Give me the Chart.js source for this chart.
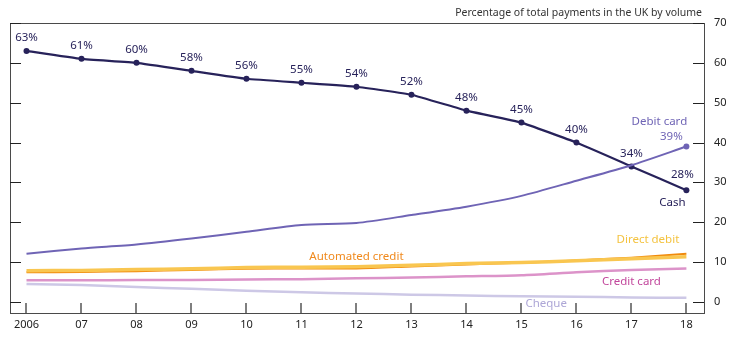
<!DOCTYPE html>
<html>
<head>
<meta charset="utf-8">
<script src="https://cdn.jsdelivr.net/npm/chart.js@4/dist/chart.umd.min.js"></script>
<style>
  html, body { margin: 0; padding: 0; background: #fff; }
  #wrap { width: 740px; height: 340px; }
</style>
</head>
<body>
<div id="wrap"><canvas id="payments" width="740" height="340"></canvas></div>
<script>
const years = [2006, 2007, 2008, 2009, 2010, 2011, 2012, 2013, 2014, 2015, 2016, 2017, 2018];
const yearLabels = ["2006", "07", "08", "09", "10", "11", "12", "13", "14", "15", "16", "17", "18"];

const cash = [63, 61, 60, 58, 56, 55, 54, 52, 48, 45, 40, 34, 28];
const debitCard = [12.1, 13.4, 14.4, 15.9, 17.6, 19.3, 19.8, 21.8, 23.9, 26.6, 30.4, 34.3, 39];
const directDebit = [7.8, 7.9, 8.1, 8.3, 8.6, 8.7, 8.8, 9.2, 9.6, 9.9, 10.3, 10.8, 11.3];
const automatedCredit = [7.4, 7.5, 7.7, 8.0, 8.3, 8.4, 8.4, 8.9, 9.4, 9.8, 10.4, 11.1, 12.1];
const creditCard = [5.4, 5.4, 5.5, 5.5, 5.6, 5.7, 5.9, 6.1, 6.4, 6.7, 7.4, 8.0, 8.4];
const cheque = [4.5, 4.2, 3.7, 3.3, 2.8, 2.4, 2.1, 1.8, 1.6, 1.4, 1.3, 1.1, 1.0];

const yTicks = [0, 10, 20, 30, 40, 50, 60, 70];

const FONT = "'Noto Sans', 'Open Sans', sans-serif";
const NAVY = "#27225a";
const PURPLE = "#6f64b5";

function pts(values) {
  return values.map((v, i) => ({ x: years[i], y: v }));
}

// Frame, inward tick marks on left/right/bottom, and series annotations
const decorPlugin = {
  id: "decor",
  afterDraw(chart) {
    const { ctx, chartArea: a, scales } = chart;
    const x = scales.x, y = scales.y;
    ctx.save();
    ctx.strokeStyle = "#4a4a4a";
    ctx.lineWidth = 1;
    ctx.strokeRect(Math.round(a.left) + 0.5, Math.round(a.top) + 0.5,
      Math.round(a.right - a.left), Math.round(a.bottom - a.top));

    ctx.strokeStyle = "#222";
    ctx.beginPath();
    yTicks.forEach((t) => {
      const py = Math.round(y.getPixelForValue(t)) + 0.5;
      ctx.moveTo(a.left, py); ctx.lineTo(a.left + 11, py);
      ctx.moveTo(a.right, py); ctx.lineTo(a.right - 11, py);
    });
    ctx.stroke();

    ctx.strokeStyle = "#555";
    ctx.lineWidth = 1.5;
    ctx.beginPath();
    years.forEach((yr) => {
      const px = Math.round(x.getPixelForValue(yr));
      ctx.moveTo(px, a.bottom); ctx.lineTo(px, a.bottom - 10);
    });
    ctx.stroke();

    // title
    ctx.font = "10.5px " + FONT;
    ctx.fillStyle = "#333";
    ctx.textAlign = "right";
    ctx.textBaseline = "middle";
    ctx.fillText("Percentage of total payments in the UK by volume", a.right - 2, 13);

    // cash value labels
    ctx.textAlign = "center";
    ctx.fillStyle = NAVY;
    ctx.font = "11.5px " + FONT;
    cash.forEach((v, i) => {
      if (i === cash.length - 1) return;
      ctx.fillText(v + "%", x.getPixelForValue(years[i]), y.getPixelForValue(v) - 13);
    });
    const last = years.length - 1;
    const lx = x.getPixelForValue(years[last]);
    ctx.fillText(cash[last] + "%", lx - 4, y.getPixelForValue(cash[last]) - 16);
    ctx.fillText("Cash", lx - 14, y.getPixelForValue(cash[last]) + 12);

    ctx.fillStyle = PURPLE;
    ctx.fillText(Math.round(debitCard[last]) + "%", lx - 15, y.getPixelForValue(debitCard[last]) - 10);
    ctx.fillText("Debit card", lx - 27, y.getPixelForValue(debitCard[last]) - 25);

    ctx.fillStyle = "#f0891c";
    ctx.fillText("Automated credit", x.getPixelForValue(2012.0), y.getPixelForValue(automatedCredit[6]) - 12);
    ctx.fillStyle = "#f4c340";
    ctx.fillText("Direct debit", x.getPixelForValue(2017.3), y.getPixelForValue(directDebit[last]) - 17);
    ctx.fillStyle = "#c2479c";
    ctx.fillText("Credit card", x.getPixelForValue(2017.0), y.getPixelForValue(creditCard[11]) + 12);
    ctx.fillStyle = "#ada6d6";
    ctx.fillText("Cheque", x.getPixelForValue(2015.45), y.getPixelForValue(cheque[9]) + 7);
    ctx.restore();
  },
};

function series(values, color, width, extra) {
  return Object.assign({
    data: pts(values),
    borderColor: color,
    backgroundColor: color,
    borderWidth: width,
    pointRadius: 0,
    tension: 0.25,
    fill: false,
  }, extra || {});
}

new Chart(document.getElementById("payments"), {
  type: "line",
  plugins: [decorPlugin],
  data: {
    datasets: [
      series(cheque, "#cdc8e6", 2.5),
      series(creditCard, "#dc93c9", 2.5),
      series(directDebit, "#f9c650", 3.5),
      series(automatedCredit, "#f08a0c", 2),
      series(debitCard, PURPLE, 2, {
        pointRadius: debitCard.map((_, i) => (i === debitCard.length - 1 ? 3 : 0)),
        pointBorderWidth: 0,
      }),
      series(cash, NAVY, 2.2, { pointRadius: 3, pointBorderWidth: 0, tension: 0.1 }),
    ],
  },
  options: {
    responsive: false,
    animation: false,
    layout: { padding: { left: 10, top: 23, right: 0, bottom: 0 } },
    scales: {
      x: {
        type: "linear",
        min: 2005.7,
        max: 2018.32,
        afterBuildTicks: (s) => { s.ticks = years.map((v) => ({ value: v })); },
        afterFit: (s) => { s.height = 27; },
        grid: { display: false, drawTicks: false },
        border: { display: false },
        ticks: {
          padding: 5,
          color: "#222",
          font: { family: FONT, size: 11 },
          maxRotation: 0,
          autoSkip: false,
          callback: (v) => yearLabels[years.indexOf(v)],
        },
      },
      y: {
        position: "right",
        min: -2.8,
        max: 70,
        afterBuildTicks: (s) => { s.ticks = yTicks.map((v) => ({ value: v })); },
        afterFit: (s) => { s.width = 36; },
        grid: { display: false, drawTicks: false },
        border: { display: false },
        ticks: {
          padding: 10,
          color: "#222",
          font: { family: FONT, size: 11 },
        },
      },
    },
    plugins: {
      legend: { display: false },
      tooltip: { enabled: false },
    },
  },
});
</script>
</body>
</html>
